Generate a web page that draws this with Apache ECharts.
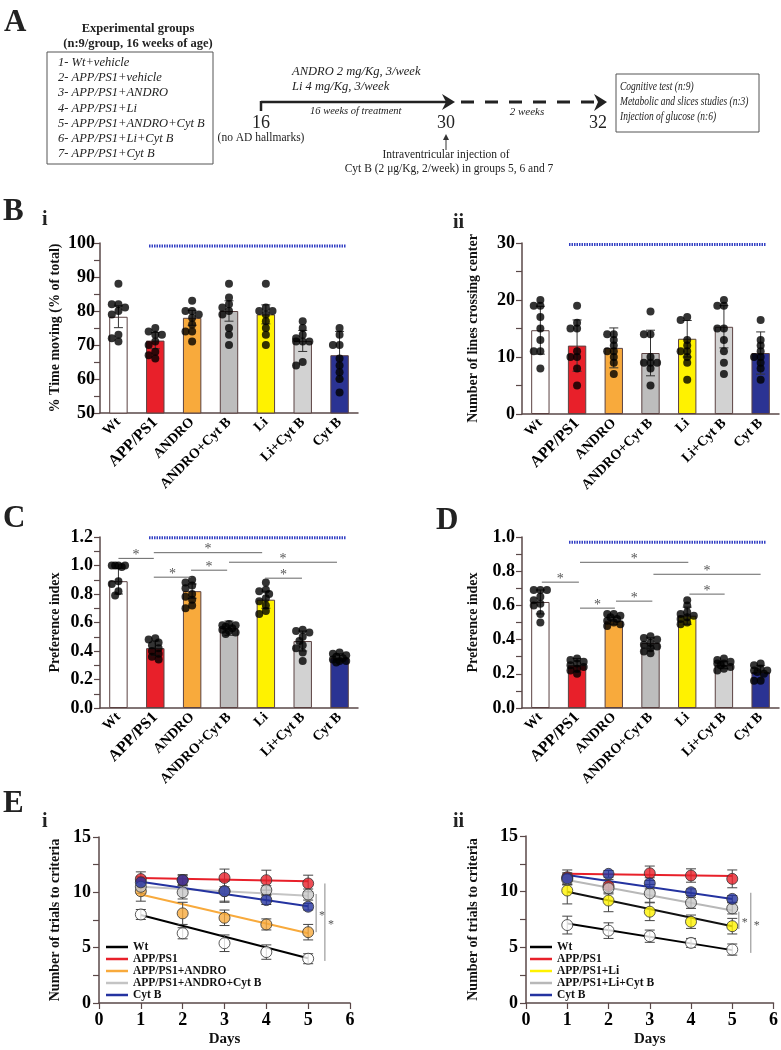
<!DOCTYPE html>
<html><head><meta charset="utf-8">
<script src="https://cdn.jsdelivr.net/npm/echarts@6/dist/echarts.min.js"></script>
<style>html,body{margin:0;padding:0;background:#fff}#c{width:781px;height:1050px}</style>
</head><body><div id="c"></div>
<script>
// ---------- data ----------
const groups = ['Wt','APP/PS1','ANDRO','ANDRO+Cyt B','Li','Li+Cyt B','Cyt B'];

// B i : % time moving
const timeMovingMean = [78.3, 71.3, 78.0, 80.0, 79.0, 71.2, 67.0];
const timeMovingSD   = [3.2, 2.4, 2.2, 3.0, 2.8, 3.1, 7.0];
const timeMovingPts = [
  [88, 82, 82, 81, 80, 79, 73, 72, 71],
  [75, 74, 73, 73, 71, 70, 68, 67, 66],
  [83, 80, 80, 79, 78, 76, 74, 74, 71],
  [88, 84, 82, 81, 80, 79, 75, 73, 70],
  [88, 81, 80, 80, 79, 77, 75, 73, 70],
  [77, 75, 73, 72, 71, 71, 71, 65, 64],
  [75, 73, 70, 70, 66, 64, 62, 60, 56]
];
// B ii : lines crossing center
const crossMean = [14.7, 12.0, 11.6, 10.7, 13.2, 15.3, 10.7];
const crossSD   = [4.2, 4.5, 3.5, 4.0, 3.2, 3.7, 3.7];
const crossPts = [
  [20, 19, 19, 17, 15, 13, 11, 11, 8],
  [19, 16, 15, 15, 11, 10, 10, 8, 5],
  [14, 14, 13, 12, 11, 11, 10, 9, 7],
  [18, 14, 14, 10, 9, 9, 9, 8, 5],
  [17, 16.5, 13, 12, 11, 11, 10, 9, 6],
  [20, 19, 19, 15, 15, 13, 11, 9, 7],
  [16.5, 13, 12, 11, 10, 10, 9, 8, 6]
];
// C : preference index
const prefCMean = [0.89, 0.42, 0.82, 0.56, 0.76, 0.47, 0.35];
const prefCSD   = [0.09, 0.05, 0.05, 0.05, 0.06, 0.07, 0.03];
const prefCPts = [
  [1.0, 1.0, 1.0, 1.0, 0.99, 0.89, 0.87, 0.82, 0.79],
  [0.49, 0.48, 0.46, 0.44, 0.42, 0.40, 0.38, 0.36, 0.34],
  [0.90, 0.88, 0.86, 0.84, 0.80, 0.78, 0.76, 0.72, 0.70],
  [0.59, 0.58, 0.58, 0.57, 0.56, 0.55, 0.54, 0.53, 0.52],
  [0.88, 0.83, 0.82, 0.80, 0.77, 0.75, 0.72, 0.68, 0.66],
  [0.55, 0.54, 0.53, 0.50, 0.47, 0.44, 0.42, 0.39, 0.33],
  [0.39, 0.38, 0.37, 0.36, 0.35, 0.34, 0.33, 0.33, 0.32]
];
// D : preference index
const prefDMean = [0.62, 0.25, 0.51, 0.38, 0.54, 0.25, 0.21];
const prefDSD   = [0.07, 0.04, 0.02, 0.03, 0.05, 0.02, 0.04];
const prefDPts = [
  [0.69, 0.69, 0.69, 0.65, 0.63, 0.61, 0.60, 0.55, 0.50],
  [0.29, 0.28, 0.27, 0.26, 0.25, 0.24, 0.23, 0.22, 0.20],
  [0.55, 0.55, 0.54, 0.53, 0.52, 0.51, 0.50, 0.49, 0.48],
  [0.42, 0.41, 0.40, 0.38, 0.37, 0.36, 0.35, 0.33, 0.32],
  [0.63, 0.60, 0.56, 0.55, 0.54, 0.53, 0.52, 0.50, 0.49],
  [0.29, 0.28, 0.27, 0.26, 0.26, 0.25, 0.24, 0.23, 0.22],
  [0.26, 0.25, 0.23, 0.22, 0.22, 0.21, 0.20, 0.16, 0.16]
];
// annotation lines: [fromIndex, toIndex, value]
const topLineBi  = [0.83, 6.17, 99.1];
const topLineBii = [0.78, 6.15, 29.75];
const topLineC   = [0.83, 6.17, 1.195];
const topLineD   = [0.78, 6.15, 0.97];
const sigC = [[0.0, 0.96, 1.05], [0.96, 3.9, 1.09], [0.96, 1.97, 0.918], [1.97, 2.95, 0.967], [3.0, 5.93, 1.023], [3.98, 4.98, 0.911]];
const sigD = [[0.04, 1.05, 0.736], [1.08, 4.03, 0.852], [1.08, 2.03, 0.584], [2.06, 3.05, 0.625], [3.08, 6.0, 0.782], [4.06, 5.02, 0.666]];

// E : trials to criteria
const days = [1, 2, 3, 4, 5];
const e1Names = ['Wt', 'APP/PS1', 'APP/PS1+ANDRO', 'APP/PS1+ANDRO+Cyt B', 'Cyt B'];
const e1Means = [[8.0, 6.3, 5.4, 4.6, 4.0], [11.2, 11.1, 11.3, 11.1, 10.8], [10.1, 8.1, 7.7, 7.1, 6.4], [10.5, 10.0, 10.1, 10.2, 9.8], [10.9, 11.1, 10.1, 9.3, 8.7]];
const e1Err   = [[0.45, 0.5, 0.75, 0.65, 0.45], [0.65, 0.5, 0.8, 0.9, 0.75], [0.9, 1.0, 0.7, 0.5, 0.7], [0.6, 0.6, 0.9, 0.4, 0.5], [0.5, 0.4, 1.0, 0.4, 0.3]];
const e1FitStart = [7.95, 11.3, 9.8, 10.5, 10.95];
const e1FitEnd   = [4.05, 11.0, 6.3, 9.7, 8.75];
const e1Sig = [[5.19, 6.4, 9.85], [5.4, 3.8, 10.8]];

const e2Names = ['Wt', 'APP/PS1', 'APP/PS1+Li', 'APP/PS1+Li+Cyt B', 'Cyt B'];
const e2Means = [[7.0, 6.5, 6.0, 5.4, 4.8], [11.3, 10.5, 11.65, 11.45, 11.15], [10.1, 9.2, 8.2, 7.3, 6.9], [11.1, 10.3, 9.85, 9.0, 8.5], [11.2, 11.6, 10.75, 9.95, 9.35]];
const e2Err   = [[0.8, 0.7, 0.55, 0.4, 0.5], [0.65, 0.6, 0.65, 0.6, 0.8], [1.2, 1.0, 0.8, 0.6, 0.7], [0.5, 0.5, 0.8, 0.5, 0.5], [0.5, 0.3, 0.5, 0.3, 0.3]];
const e2FitStart = [7.15, 11.6, 10.0, 11.05, 11.5];
const e2FitEnd   = [4.75, 11.4, 6.9, 8.3, 9.35];
const e2Sig = [[5.16, 6.65, 8.2], [5.45, 4.5, 9.9]];

const expGroups = ['1- Wt+vehicle', '2- APP/PS1+vehicle', '3- APP/PS1+ANDRO', '4- APP/PS1+Li', '5- APP/PS1+ANDRO+Cyt B', '6- APP/PS1+Li+Cyt B', '7- APP/PS1+Cyt B'];
const outcomes = ['Cognitive test (n:9)', 'Metabolic and slices studies (n:3)', 'Injection of glucose (n:6)'];

// ---------- styles ----------
const FONT = '"Liberation Serif", "Times New Roman", serif';
const AX = '#5a4848';
const barColors = ['#ffffff', '#e8202a', '#f8aa3c', '#bdbdbd', '#fff200', '#d2d2d2', '#2b3393'];
const e1Fill = ['#ffffff', '#e8202a', '#f8aa3c', '#c8c8c8', '#2433a0'];
const e1Line = ['#000000', '#e8202a', '#f8aa3c', '#c4c4c4', '#2433a0'];
const e2Fill = ['#ffffff', '#e8202a', '#fff200', '#c8c8c8', '#2433a0'];
const e2Line = ['#000000', '#e8202a', '#111111', '#b8b8b8', '#2433a0'];
const e2Legend = ['#000000', '#e8202a', '#fff200', '#b8b8b8', '#2433a0'];

function swarmOffsets(vals, pxPerUnit) {
  const catPx = 36.8, step = 0.09, dot = 5;
  const placed = [];
  return vals.map(v => {
    let best = 0, bestD = -1;
    for (const k of [0, -1, 1, -2, 2]) {
      const o = k * step;
      let md = Infinity;
      for (const p of placed) md = Math.min(md, Math.hypot((o - p[0]) * catPx, (v - p[1]) * pxPerUnit));
      if (md >= dot) { best = o; bestD = md; break; }
      if (md > bestD) { bestD = md; best = o; }
    }
    placed.push([best, v]);
    return best;
  });
}

function errRender(half, color, lw) {
  return (params, api) => {
    const x = api.value(0), m = api.value(1), e = api.value(2);
    const t = api.coord([x, m + e]), b = api.coord([x, m - e]);
    const st = { stroke: color, lineWidth: lw };
    return { type: 'group', children: [
      { type: 'line', shape: { x1: t[0], y1: t[1], x2: b[0], y2: b[1] }, style: st },
      { type: 'line', shape: { x1: t[0] - half, y1: t[1], x2: t[0] + half, y2: t[1] }, style: st },
      { type: 'line', shape: { x1: b[0] - half, y1: b[1], x2: b[0] + half, y2: b[1] }, style: st }
    ] };
  };
}
function hSigRender(params, api) {
  const a = api.coord([api.value(0), api.value(2)]);
  const b = api.coord([api.value(1), api.value(2)]);
  return { type: 'group', children: [
    { type: 'line', shape: { x1: a[0], y1: a[1], x2: b[0], y2: b[1] }, style: { stroke: '#666', lineWidth: 1 } },
    { type: 'text', x: (a[0] + b[0]) / 2, y: a[1] - 3, style: { text: '*', font: '14px ' + FONT, fill: '#555', textAlign: 'center', textVerticalAlign: 'middle' } }
  ] };
}
function vSigRender(params, api) {
  const a = api.coord([api.value(0), api.value(1)]);
  const b = api.coord([api.value(0), api.value(2)]);
  return { type: 'group', children: [
    { type: 'line', shape: { x1: a[0], y1: a[1], x2: b[0], y2: b[1] }, style: { stroke: '#888', lineWidth: 1 } },
    { type: 'text', x: a[0] + 6, y: (a[1] + b[1]) / 2 + 3, style: { text: '*', font: '12px ' + FONT, fill: '#555', textAlign: 'center', textVerticalAlign: 'middle' } }
  ] };
}

function barPanel(xCat, xVal, yi, means, sds, pts, topLine, sigs, pxPerUnit) {
  const s = [];
  s.push({ type: 'bar', xAxisIndex: xCat, yAxisIndex: yi, barWidth: '50%', z: 2,
    data: means.map((m, i) => ({ value: m, itemStyle: { color: barColors[i], borderColor: '#5b4242', borderWidth: 1 } })) });
  s.push({ type: 'custom', xAxisIndex: xVal, yAxisIndex: yi, z: 3, renderItem: errRender(4.5, '#333', 1),
    data: means.map((m, i) => [i, m, sds[i]]) });
  const sc = [];
  pts.forEach((arr, i) => { const off = swarmOffsets(arr, pxPerUnit); arr.forEach((v, j) => sc.push([i + off[j], v])); });
  s.push({ type: 'scatter', xAxisIndex: xVal, yAxisIndex: yi, z: 4, symbolSize: 8, itemStyle: { color: '#000' }, data: sc });
  s.push({ type: 'line', xAxisIndex: xVal, yAxisIndex: yi, z: 5, symbol: 'none', silent: true,
    lineStyle: { color: '#3441c4', width: 3, type: [1.5, 1] },
    data: [[topLine[0], topLine[2]], [topLine[1], topLine[2]]] });
  if (sigs) s.push({ type: 'custom', xAxisIndex: xVal, yAxisIndex: yi, z: 5, renderItem: hSigRender, data: sigs });
  return s;
}

function linePanel(xi, yi, prefix, names, means, errs, fs, fe, fills, lines, legendCols, sig) {
  const s = [];
  names.forEach((n, k) => {
    s.push({ type: 'line', xAxisIndex: xi, yAxisIndex: yi, name: prefix + n, data: [], color: legendCols[k],
      itemStyle: { color: legendCols[k] }, lineStyle: { color: legendCols[k] } });
    s.push({ type: 'line', xAxisIndex: xi, yAxisIndex: yi, z: 2, symbol: 'none', silent: true,
      lineStyle: { color: lines[k], width: 2 }, data: [[days[0], fs[k]], [days[days.length - 1], fe[k]]] });
  });
  names.forEach((n, k) => {
    s.push({ type: 'custom', xAxisIndex: xi, yAxisIndex: yi, z: 3, renderItem: errRender(5, '#444', 1),
      data: days.map((d, j) => [d, means[k][j], errs[k][j]]) });
  });
  names.forEach((n, k) => {
    s.push({ type: 'scatter', xAxisIndex: xi, yAxisIndex: yi, z: 4, symbolSize: 11,
      itemStyle: { color: fills[k], borderColor: '#333', borderWidth: 1 },
      data: days.map((d, j) => [d, means[k][j]]) });
  });
  s.push({ type: 'custom', xAxisIndex: xi, yAxisIndex: yi, z: 5, renderItem: vSigRender, data: sig });
  return s;
}

function yAx(gi, min, max, interval, name, gap, fmt, margin) {
  return { type: 'value', gridIndex: gi, min, max, interval, name, nameLocation: 'middle', nameGap: gap, nameRotate: 90,
    nameTextStyle: { fontFamily: FONT, fontWeight: 'bold', fontSize: 14, color: '#111' },
    axisLine: { show: true, onZero: false, lineStyle: { color: AX, width: 1.5 } },
    axisTick: { show: true, length: 6, lineStyle: { color: AX, width: 1.2 } },
    minorTick: { show: true, splitNumber: 2, length: 6, lineStyle: { color: AX, width: 1.2 } },
    splitLine: { show: false }, minorSplitLine: { show: false },
    axisLabel: { fontFamily: FONT, fontWeight: 'bold', fontSize: 18, color: '#000', margin, formatter: fmt } };
}
function catAx(gi) {
  return { type: 'category', gridIndex: gi, data: groups,
    axisLine: { onZero: false, lineStyle: { color: AX, width: 1.5 } },
    axisTick: { alignWithLabel: true, length: 5, lineStyle: { color: AX } },
    axisLabel: { rotate: 45, interval: 0, margin: 7, fontFamily: FONT, fontWeight: 'bold', fontSize: 14, color: '#000',
      formatter: v => v === 'APP/PS1' ? '{big|' + v + '}' : v,
      rich: { big: { fontFamily: FONT, fontWeight: 'bold', fontSize: 16, color: '#000' } } } };
}
function hidAx(gi) { return { type: 'value', gridIndex: gi, min: -0.5, max: 6.5, show: false }; }
function dayAx(gi) {
  return { type: 'value', gridIndex: gi, min: 0, max: 6, interval: 1, name: 'Days', nameLocation: 'middle', nameGap: 29,
    nameTextStyle: { fontFamily: FONT, fontWeight: 'bold', fontSize: 15, color: '#111' },
    axisLine: { onZero: false, lineStyle: { color: AX, width: 1.5 } },
    axisTick: { length: 6, lineStyle: { color: AX, width: 1.2 } }, splitLine: { show: false },
    axisLabel: { fontFamily: FONT, fontWeight: 'bold', fontSize: 18, color: '#000', margin: 8 } };
}

// ---------- graphic (panel A + panel letters) ----------
const G = [];
function T(text, x, y, font, align, extra) {
  G.push(Object.assign({ type: 'text', x, y, style: { text, font: font + ' ' + FONT, fill: '#222', textAlign: align || 'left', textVerticalAlign: 'middle' } }, extra || {}));
}
T('A', 4, 23, 'bold 31px');
T('Experimental groups', 138, 29, 'bold 12.5px', 'center');
T('(n:9/group, 16 weeks of age)', 138, 44, 'bold 12.5px', 'center');
G.push({ type: 'rect', shape: { x: 47, y: 52, width: 166, height: 112 }, style: { fill: 'none', stroke: '#555', lineWidth: 1 } });
expGroups.forEach((g, k) => T(g, 58, 63 + k * 15.1, 'italic 12.5px'));
G.push({ type: 'line', shape: { x1: 261, y1: 102, x2: 448, y2: 102 }, style: { stroke: '#222', lineWidth: 2.5 } });
G.push({ type: 'line', shape: { x1: 261, y1: 101, x2: 261, y2: 111 }, style: { stroke: '#222', lineWidth: 2.5 } });
G.push({ type: 'polygon', shape: { points: [[455, 102], [442, 94], [446, 102], [442, 110]] }, style: { fill: '#222' } });
G.push({ type: 'line', shape: { x1: 461, y1: 102, x2: 594, y2: 102 }, style: { stroke: '#222', lineWidth: 3, lineDash: [13, 11] } });
G.push({ type: 'polygon', shape: { points: [[607, 102], [594, 94], [598, 102], [594, 111]] }, style: { fill: '#222' } });
T('ANDRO 2 mg/Kg, 3/week', 292, 72, 'italic 12.5px');
T('Li 4 mg/Kg, 3/week', 292, 87, 'italic 12.5px');
T('16 weeks of treatment', 310, 111, 'italic 10.5px');
T('16', 261, 123, '18px', 'center');
T('(no AD hallmarks)', 261, 138, '11.5px', 'center');
T('30', 446, 123, '18px', 'center');
G.push({ type: 'line', shape: { x1: 446, y1: 138, x2: 446, y2: 150 }, style: { stroke: '#333', lineWidth: 1 } });
G.push({ type: 'polygon', shape: { points: [[446, 134], [443, 140], [449, 140]] }, style: { fill: '#333' } });
T('Intraventricular injection of', 446, 155, '11.5px', 'center');
T('Cyt B (2 μg/Kg, 2/week) in groups 5, 6 and 7', 449, 169, '11.5px', 'center');
T('2 weeks', 527, 112, 'italic 11px', 'center');
T('32', 598, 123, '18px', 'center');
G.push({ type: 'rect', shape: { x: 616, y: 74, width: 143, height: 58 }, style: { fill: 'none', stroke: '#555', lineWidth: 1 } });
outcomes.forEach((o, k) => T(o, 620, 87 + k * 15, 'italic 12px', 'left', { scaleX: 0.79 }));
T('B', 3, 212, 'bold 31px');
T('i', 42, 220, 'bold 20px');
T('ii', 453, 223, 'bold 20px');
T('C', 3, 519, 'bold 31px');
T('D', 436, 521, 'bold 31px');
T('E', 3, 804, 'bold 31px');
T('i', 42, 822, 'bold 20px');
T('ii', 453, 822, 'bold 20px');

// ---------- option ----------
const f1 = v => v.toFixed(1);
const option = {
  animation: false,
  backgroundColor: '#fff',
  grid: [
    { left: 100, top: 243, width: 258, height: 170 },
    { left: 522, top: 243, width: 257, height: 171 },
    { left: 100, top: 537, width: 258, height: 171 },
    { left: 522, top: 537, width: 257, height: 171 },
    { left: 99, top: 837, width: 251, height: 166 },
    { left: 526, top: 836, width: 251, height: 167 }
  ],
  xAxis: [catAx(0), hidAx(0), catAx(1), hidAx(1), catAx(2), hidAx(2), catAx(3), hidAx(3), dayAx(4), dayAx(5)],
  yAxis: [
    yAx(0, 50, 100, 10, '% Time moving (% of total)', 38, null, 5),
    yAx(1, 0, 30, 10, 'Number of lines crossing center', 42, null, 7),
    yAx(2, 0, 1.2, 0.2, 'Preference index', 38, f1, 7),
    yAx(3, 0, 1.0, 0.2, 'Preference index', 42, f1, 7),
    yAx(4, 0, 15, 5, 'Number of trials to criteria', 37, null, 8),
    yAx(5, 0, 15, 5, 'Number of trials to criteria', 46, null, 8)
  ],
  legend: [
    { left: 106, top: 941, orient: 'vertical', padding: 0, itemWidth: 22, itemHeight: 2.5, itemGap: 0, icon: 'rect', selectedMode: false,
      data: e1Names.map(n => 'E1:' + n), formatter: n => n.slice(3),
      textStyle: { fontFamily: FONT, fontWeight: 'bold', fontSize: 11.5, color: '#111', lineHeight: 11 } },
    { left: 530, top: 941, orient: 'vertical', padding: 0, itemWidth: 22, itemHeight: 2.5, itemGap: 0, icon: 'rect', selectedMode: false,
      data: e2Names.map(n => 'E2:' + n), formatter: n => n.slice(3),
      textStyle: { fontFamily: FONT, fontWeight: 'bold', fontSize: 11.5, color: '#111', lineHeight: 11 } }
  ],
  graphic: { elements: G },
  series: [].concat(
    barPanel(0, 1, 0, timeMovingMean, timeMovingSD, timeMovingPts, topLineBi, null, 3.4),
    barPanel(2, 3, 1, crossMean, crossSD, crossPts, topLineBii, null, 5.7),
    barPanel(4, 5, 2, prefCMean, prefCSD, prefCPts, topLineC, sigC, 142.5),
    barPanel(6, 7, 3, prefDMean, prefDSD, prefDPts, topLineD, sigD, 171),
    linePanel(8, 4, 'E1:', e1Names, e1Means, e1Err, e1FitStart, e1FitEnd, e1Fill, e1Line, e1Line, e1Sig),
    linePanel(9, 5, 'E2:', e2Names, e2Means, e2Err, e2FitStart, e2FitEnd, e2Fill, e2Line, e2Legend, e2Sig)
  )
};
const chart = echarts.init(document.getElementById('c'));
chart.setOption(option);
</script>
</body></html>
